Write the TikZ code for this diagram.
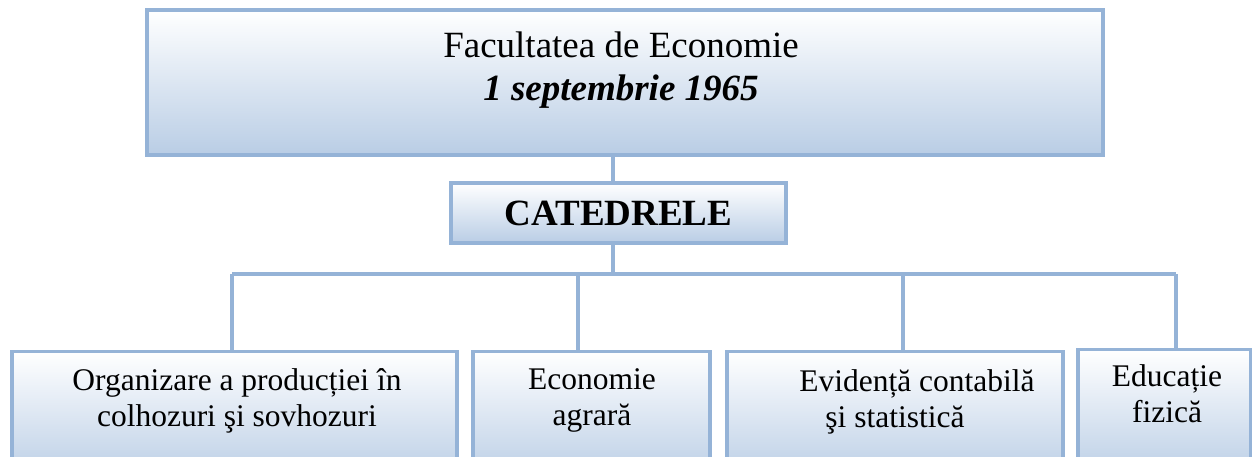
\documentclass[tikz,border=0pt]{standalone}
\usepackage{fontspec}
\setmainfont{Liberation Serif}
\usetikzlibrary{positioning}
\definecolor{lineblue}{RGB}{149,179,215}
\definecolor{fillblue}{RGB}{185,205,229}

\begin{document}
\begin{tikzpicture}[x=1pt,y=-1pt]
\tikzstyle{box}=[rectangle, draw=lineblue, line width=3.2pt, top color=white, bottom color=fillblue, inner sep=0pt]
\tikzstyle{txt}=[align=center, font=\fontsize{31.5}{36}\selectfont]
\tikzstyle{connect}=[draw=lineblue, line width=3.2pt]
\useasboundingbox (0,0) rectangle (1252,457);

	% facultatea
	\node[box, minimum width=956, minimum height=145] (fac) at (625,82.5) {};
	\node[align=center, font=\fontsize{37}{43}\selectfont] (facT) at (621,70)
		{Facultatea de Economie\\\textbf{\textit{1 septembrie 1965}}};
	% catedrele
	\node[box, minimum width=335, minimum height=60, font=\fontsize{37}{42}\selectfont\bfseries] (cat) at (618.5,213) {CATEDRELE};

	% catedre
	\node[box, anchor=north, minimum width=445, minimum height=130] (b1) at (234.5,350) {};
	\node[box, anchor=north, minimum width=237, minimum height=130] (b2) at (591.5,350) {};
	\node[box, anchor=north, minimum width=336, minimum height=130] (b3) at (895,350) {};
	\node[box, anchor=north, minimum width=173, minimum height=130] (b4) at (1164.5,348) {};

	\node[txt] (t1) at (237,401) {Organizare a producției în\\colhozuri şi sovhozuri};
	\node[txt] (t2) at (592,400) {Economie\\agrară};
	\node[txt] (t3) at (895,402) {\hspace*{44pt}Evidență contabilă\\şi statistică};
	\node[txt] (t4) at (1167,394) {Educație\\fizică};

	\coordinate (hub) at (613,274);
	\coordinate (d1) at (232,274);
	\coordinate (d2) at (578,274);
	\coordinate (d3) at (903,274);
	\coordinate (d4) at (1176,274);

	\path[connect]
		(hub |- fac.south) -- (hub |- cat.north)
		(hub |- cat.south) -- (hub)
		(d1) -- (d4)
		(d1) -- (d1 |- b1.north)
		(d2) -- (d2 |- b2.north)
		(d3) -- (d3 |- b3.north)
		(d4) -- (d4 |- b4.north);

\end{tikzpicture}
\end{document}
